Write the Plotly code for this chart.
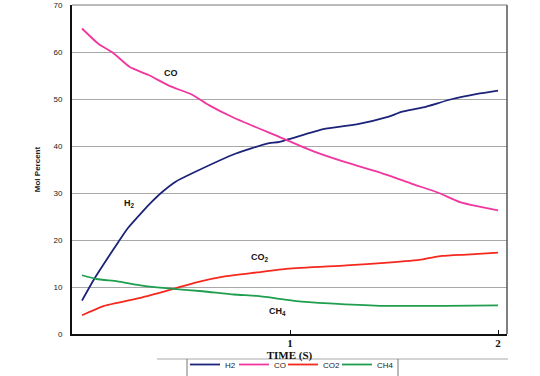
import plotly.graph_objects as go

# Data
h2_t = [0, 0.06, 0.13, 0.175, 0.22, 0.29, 0.335, 0.38, 0.45, 0.535, 0.74, 0.89, 0.95, 1.16, 1.32, 1.47, 1.54, 1.64, 1.78, 1.90, 2.0]
h2 = [7.1, 11.8, 16.6, 19.6, 22.5, 26.0, 28.1, 30.0, 32.4, 34.3, 38.4, 40.5, 40.9, 43.6, 44.6, 46.2, 47.3, 48.2, 50.0, 51.1, 51.8]

co_t = [0, 0.08, 0.15, 0.23, 0.32, 0.42, 0.53, 0.61, 0.73, 0.95, 1.11, 1.27, 1.43, 1.59, 1.71, 1.82, 1.91, 2.0]
co = [65.0, 61.7, 59.8, 56.8, 55.1, 52.8, 50.9, 48.7, 46.0, 41.9, 38.9, 36.5, 34.4, 31.9, 30.1, 28.0, 27.1, 26.3]

co2_t = [0, 0.10, 0.29, 0.44, 0.55, 0.68, 0.84, 0.99, 1.27, 1.47, 1.64, 1.73, 1.85, 2.0]
co2 = [4.0, 5.9, 7.8, 9.6, 11.0, 12.2, 13.1, 13.9, 14.6, 15.2, 15.9, 16.6, 16.9, 17.3]

ch4_t = [0, 0.07, 0.17, 0.29, 0.44, 0.58, 0.73, 0.84, 0.93, 1.03, 1.19, 1.43, 1.75, 2.0]
ch4 = [12.5, 11.7, 11.2, 10.3, 9.6, 9.1, 8.4, 8.1, 7.6, 7.0, 6.5, 6.0, 6.0, 6.1]

series_names = ["H2", "CO", "CO2", "CH4"]
colors = ["#1c2378", "#f2369f", "#f5281e", "#1f9e4f"]
legend_slots = [4, 4, 9, 12]

x_ticks = [1, 2]
y_ticks = [0, 10, 20, 30, 40, 50, 60, 70]

fig = go.Figure()
for name, tx, vals, col, lw in zip(series_names, [h2_t, co_t, co2_t, ch4_t], [h2, co, co2, ch4], colors, legend_slots):
    fig.add_trace(go.Scatter(x=tx, y=vals, mode="lines", name=name, legendwidth=lw,
                             line=dict(color=col, width=1.8, shape="spline", smoothing=0.5)))

lab_font = dict(family="Liberation Sans, Arial", size=9, color="#111")
annos = [
    ("<b>CO</b>", 0.43, 55.5),
    ("<b>H<sub>2</sub></b>", 0.226, 27.7),
    ("<b>CO<sub>2</sub></b>", 0.856, 16.2),
    ("<b>CH<sub>4</sub></b>", 0.94, 4.7),
]
for txt, ax, ay in annos:
    fig.add_annotation(x=ax, y=ay, xref="x", yref="y", text=txt, showarrow=False, font=lab_font)

leg_top = (334 - 350) / 329
line_y = (334 - 359) / 329
fig.update_layout(
    width=540, height=376,
    margin=dict(l=72, r=33, t=5, b=42, autoexpand=False),
    paper_bgcolor="white", plot_bgcolor="white",
    showlegend=True,
    legend=dict(orientation="h", x=(185-72)/435, xanchor="left", y=leg_top, yanchor="top",
                font=dict(family="Liberation Sans, Arial", size=8, color="#222"),
                bgcolor="rgba(0,0,0,0)", borderwidth=0, itemwidth=30, tracegroupgap=0),
    xaxis=dict(range=[-0.048, 2.043], tickvals=x_ticks, ticktext=["<b>%d</b>" % v for v in x_ticks],
               showgrid=False, zeroline=False, showline=True, linecolor="#111", linewidth=2,
               ticks="inside", ticklen=4, tickcolor="#111", ticklabelstandoff=-2,
               tickfont=dict(family="Liberation Serif, Times New Roman", size=11, color="#111"),
               title=dict(text="<b>TIME (S)</b>", standoff=0,
                          font=dict(family="Liberation Serif, Times New Roman", size=11, color="#111"))),
    yaxis=dict(range=[0, 70], tickvals=y_ticks, showgrid=True, gridcolor="#a8a8a8", gridwidth=1,
               zeroline=False, showline=True, linecolor="#111", linewidth=2,
               tickfont=dict(family="Liberation Sans, Arial", size=8, color="#222"),
               ticklabelstandoff=6,
               title=dict(text="<b>Mol Percent</b>", standoff=12,
                          font=dict(family="Liberation Sans, Arial", size=8, color="#222"))),
    shapes=[
        dict(type="line", xref="paper", yref="paper", x0=1, x1=1, y0=0, y1=1,
             line=dict(color="#555", width=1.5)),
        dict(type="line", xref="paper", yref="paper", x0=0, x1=1, y0=1, y1=1,
             line=dict(color="#777", width=1)),
        dict(type="line", xref="paper", yref="paper", x0=(157-72)/435, x1=(508-72)/435,
             y0=line_y, y1=line_y, line=dict(color="#aaa", width=1)),
        dict(type="line", xref="paper", yref="paper", x0=(187-72)/435, x1=(187-72)/435,
             y0=line_y, y1=(334-380)/329, line=dict(color="#777", width=1)),
        dict(type="line", xref="paper", yref="paper", x0=(398-72)/435, x1=(398-72)/435,
             y0=line_y, y1=(334-380)/329, line=dict(color="#777", width=1)),
    ],
)

fig.write_html("out.html", config={"displayModeBar": False},
               post_script="document.body.style.margin='0px';")
